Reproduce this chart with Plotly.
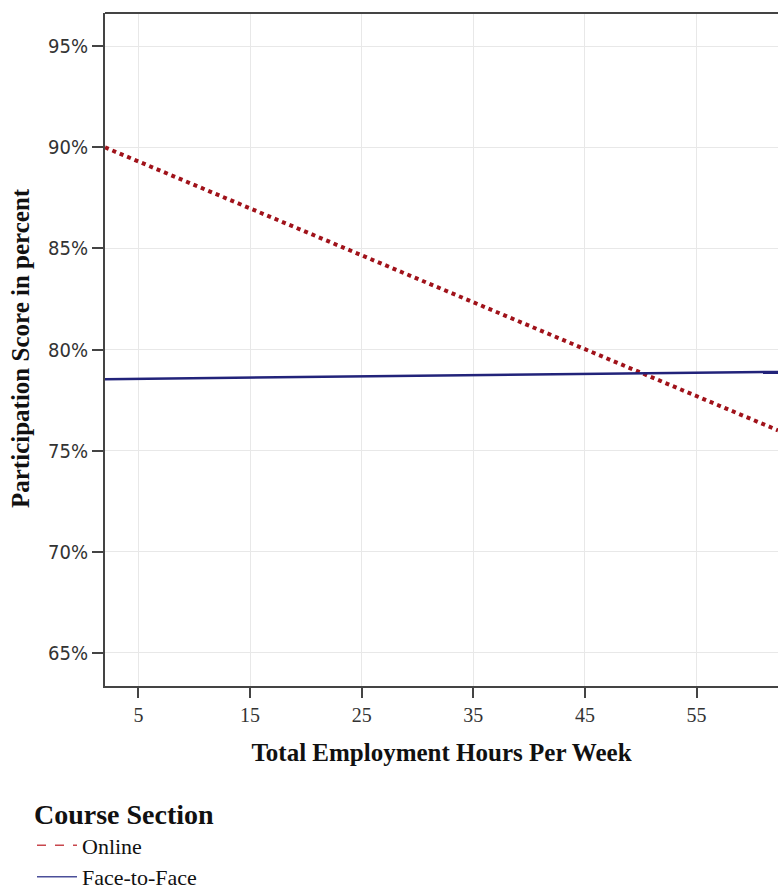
import plotly.graph_objects as go

# Data
hours = [2.0, 62.3]
online = [90.0, 76.0]
face_to_face = [78.53, 78.89]
series_names = ["Online", "Face-to-Face"]
x_ticks = [5, 15, 25, 35, 45, 55]
y_ticks = [65, 70, 75, 80, 85, 90, 95]
y_tick_labels = ["65%", "70%", "75%", "80%", "85%", "90%", "95%"]

fig = go.Figure()
fig.add_trace(go.Scatter(x=hours, y=online, mode="lines", showlegend=False,
                         line=dict(color="#a0121a", width=4, dash="dot")))
fig.add_trace(go.Scatter(x=hours, y=face_to_face, mode="lines", showlegend=False,
                         line=dict(color="#22237a", width=2.5)))
# legend entries (styled like the reference legend keys)
fig.add_trace(go.Scatter(x=[None], y=[None], mode="lines", name=series_names[0],
                         line=dict(color="#c8474d", width=1.5, dash="dash")))
fig.add_trace(go.Scatter(x=[None], y=[None], mode="lines", name=series_names[1],
                         line=dict(color="#4b4f99", width=1.5)))

serif = "Liberation Serif, Times New Roman, serif"
fig.update_layout(
    width=778, height=892,
    margin=dict(l=105, r=0, t=13, b=206, autoexpand=False),
    paper_bgcolor="white", plot_bgcolor="white",
    showlegend=True,
    legend=dict(
        xref="container", yref="container", x=32 / 778, y=1 - 788 / 892,
        xanchor="left", yanchor="top",
        title=dict(text="<b>Course Section</b>", font=dict(family=serif, size=28, color="#111")),
        font=dict(family=serif, size=22, color="#111"),
        tracegroupgap=0, itemwidth=40, bgcolor="rgba(0,0,0,0)",
    ),
    xaxis=dict(
        range=[2.0, 62.3], tickvals=x_ticks, ticktext=[str(v) for v in x_ticks],
        showgrid=True, gridcolor="#e8e8e8", gridwidth=1, zeroline=False,
        showline=True, linecolor="#444", linewidth=2,
        ticks="outside", ticklen=10, tickwidth=2, tickcolor="#444",
        tickfont=dict(family=serif, size=20, color="#333"),
        title=dict(text="<b>Total Employment Hours Per Week</b>", standoff=18,
                   font=dict(family=serif, size=25, color="#111")),
    ),
    yaxis=dict(
        range=[63.35, 96.65], tickvals=y_ticks, ticktext=y_tick_labels,
        showgrid=True, gridcolor="#e8e8e8", gridwidth=1, zeroline=False,
        showline=True, linecolor="#444", linewidth=2,
        ticks="outside", ticklen=11, tickwidth=2, tickcolor="#444",
        tickfont=dict(family="DejaVu Sans Condensed, DejaVu Sans, sans-serif", size=20, color="#333"),
    ),
    annotations=[dict(text="<b>Participation Score in percent</b>", textangle=-90,
                      xref="paper", yref="paper", x=(20 - 105) / 673, y=(686 - 348) / 673,
                      xanchor="center", yanchor="middle", showarrow=False,
                      font=dict(family=serif, size=25, color="#111"))],
    shapes=[dict(type="line", xref="paper", yref="paper", x0=0, x1=1, y0=1, y1=1,
                 line=dict(color="#444", width=2))],
)

fig.write_html("out.html", post_script="document.body.style.margin='0';",
               config={"displayModeBar": False})
